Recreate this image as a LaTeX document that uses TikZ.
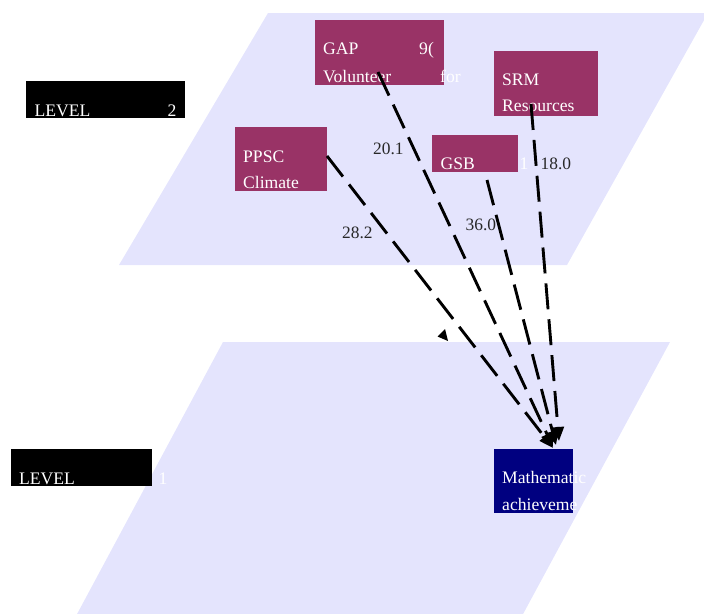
\documentclass[tikz,border=0pt]{standalone}
\usepackage{fontspec}
\setmainfont{Liberation Serif}
\usetikzlibrary{arrows.meta}
\definecolor{planecol}{RGB}{228,228,253}
\definecolor{boxred}{RGB}{153,51,102}
\definecolor{boxnavy}{RGB}{0,0,128}
\definecolor{labgray}{RGB}{40,40,40}
\tikzset{
  box/.style={draw=none, inner sep=0pt, outer sep=0pt},
  txt/.style={anchor=base west, inner sep=0pt, text=white, font=\fontsize{17.6}{20}\selectfont},
  num/.style={anchor=base west, inner sep=0pt, text=labgray, font=\fontsize{17.4}{20}\selectfont},
  link/.style={line width=2.9pt, dash pattern=on 26pt off 10pt, -{Triangle[length=14pt,width=12pt]}},
}
\begin{document}
\begin{tikzpicture}[x=1pt,y=-1pt]
\useasboundingbox (0,0) rectangle (704,613);
% planes
\fill[planecol] (268,13) -- (708,13) -- (567,265) -- (119,265) -- cycle;
\fill[planecol] (223,342) -- (670,342) -- (522,616) -- (76,616) -- cycle;
% level boxes
\node[box, fill=black, minimum width=159pt, minimum height=37pt] (lev2) at (105.5,99.5) {};
\node[txt] (lev2a) at (34.5,116) {LEVEL};
\node[txt] (lev2b) at (167.5,116) {2};
\node[box, fill=black, minimum width=141pt, minimum height=37pt] (lev1) at (81.5,467.5) {};
\node[txt] (lev1a) at (19,484.5) {LEVEL};
\node[txt] (lev1b) at (158.5,484.5) {1};
% level 2 boxes
\node[box, fill=boxred, minimum width=129pt, minimum height=65pt] (gap) at (379.5,52.5) {};
\node[txt] (gapa) at (323,54) {GAP};
\node[txt] (gapb) at (419,54) {9(};
\node[txt] (gapc) at (323,82) {Volunteer};
\node[txt] (gapd) at (440,82) {for};
\node[box, fill=boxred, minimum width=104pt, minimum height=65pt] (srm) at (546,83.5) {};
\node[txt] (srma) at (502,85) {SRM};
\node[txt] (srmb) at (502,111.5) {Resources};
\node[box, fill=boxred, minimum width=92pt, minimum height=64pt] (ppsc) at (281,159) {};
\node[txt] (ppsca) at (243,162.5) {PPSC};
\node[txt] (ppscb) at (243,188.5) {Climate};
\node[box, fill=boxred, minimum width=86pt, minimum height=37pt] (gsb) at (475,153.5) {};
\node[txt] (gsba) at (440.5,169.5) {GSB};
\node[txt] (gsbb) at (519.5,169.5) {1};
% level 1 box
\node[box, fill=boxnavy, minimum width=79pt, minimum height=64pt] (math) at (533.5,481) {};
\node[txt] (matha) at (502,483) {Mathematic};
\node[txt] (mathb) at (502,510) {achieveme};
% connector end points
\coordinate (gapout) at (378,72);
\coordinate (srmout) at (531,104);
\coordinate (ppscout) at (327,156);
\coordinate (gsbout) at (487,180);
\coordinate (mgap) at (553,447);
\coordinate (msrm) at (559,441);
\coordinate (mppsc) at (553,448);
\coordinate (mgsb) at (556,445);
% connectors
\draw[link] (gapout) -- (mgap);
\draw[link] (srmout) -- (msrm);
\draw[link] (ppscout) -- (mppsc);
\draw[link] (gsbout) -- (mgsb);
% stray arrowhead
\fill (445,329) -- (437.5,336.5) -- (448,341) -- cycle;
% labels
\node[num] (l201) at (373,154) {20.1};
\node[num] (l180) at (540.5,169) {18.0};
\node[num] (l282) at (342,238) {28.2};
\node[num] (l360) at (465.5,230.5) {36.0};
\end{tikzpicture}
\end{document}
